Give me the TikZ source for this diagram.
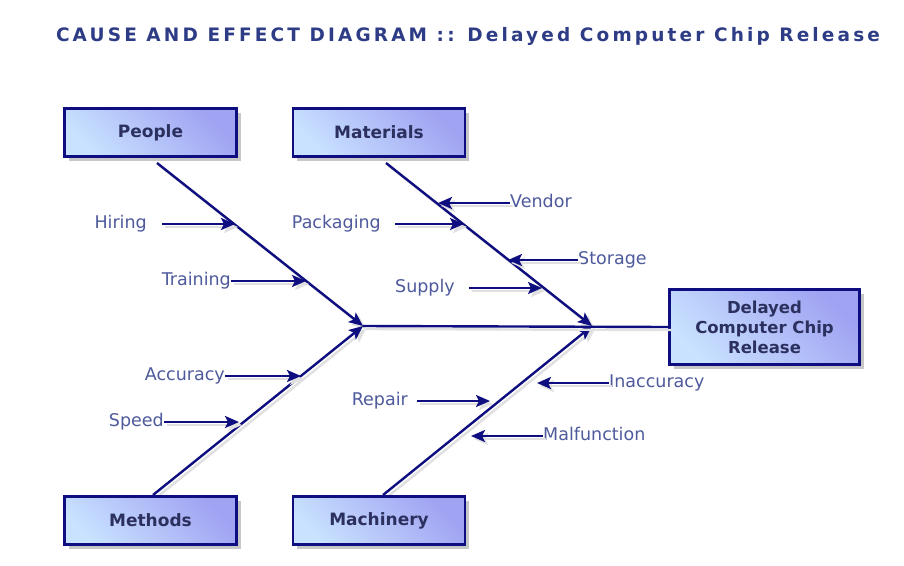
\documentclass[tikz,border=0pt]{standalone}
\usepackage{fontspec}
\setmainfont{DejaVu Sans}
\newfontfamily\titlefont[LetterSpace=17]{DejaVu Sans}
\usetikzlibrary{arrows.meta,shadows}
\definecolor{navy}{HTML}{0E0E80}
\definecolor{boxA}{HTML}{C8E2FF}
\definecolor{boxB}{HTML}{A0A2F2}
\definecolor{boxtext}{HTML}{2C305E}
\definecolor{lbltext}{HTML}{4E5A9C}
\definecolor{titlecol}{HTML}{2E3C86}
\begin{document}
\begin{tikzpicture}[x=1pt,y=-1pt,
  bone/.style={draw=navy, line width=2.4pt,
    preaction={draw=black!12, line width=2.4pt, transform canvas={shift={(3pt,-3pt)}}}},
  arr/.style={bone, -{Stealth[length=14pt,width=12pt,inset=3pt]}},
  box/.style={draw=navy, line width=2.5pt, left color=boxA, right color=boxB, shading angle=135,
    minimum width=172pt, minimum height=48pt, inner sep=0pt,
    font=\bfseries\fontsize{17}{20}\selectfont, text=boxtext,
    drop shadow={shadow xshift=4pt, shadow yshift=-4pt, fill=black!22, opacity=1}},
  lbl/.style={font=\fontsize{17.5}{20}\selectfont, text=lbltext, inner sep=0pt,
    text height=12.5pt, text depth=4pt},
]
\useasboundingbox (0,0) rectangle (904,565);
\fill[white] (0,0) rectangle (904,565);

% title
\node[font=\titlefont\bfseries\fontsize{18.5}{20}\selectfont, text=titlecol, inner sep=0pt, anchor=base] (title) at (468,41)
  {CAUSE AND EFFECT DIAGRAM :: Delayed Computer Chip Release};

% junctions and bone ends
\coordinate (j1) at (363,326);
\coordinate (j2) at (592,326);
\coordinate (pS) at (157,163);
\coordinate (mS) at (386,163);
\coordinate (meS) at (153,495);
\coordinate (maS) at (383,495);

% main bones
\draw[arr] (pS) -- (j1);
\draw[arr] (meS) -- (j1);
\draw[arr] (mS) -- (j2);
\draw[arr] (maS) -- (j2);

% boxes
\node[box] (people) at (150.5,132.5) {People};
\node[box] (materials) at (379,132.5) {Materials};
\node[box] (methods) at (150.5,520.5) {Methods};
\node[box] (machinery) at (379,520.5) {Machinery};
\node[box, minimum width=190pt, minimum height=75pt, align=center,
  font=\bfseries\fontsize{16.5}{20}\selectfont] (effect) at (764.5,327)
  {Delayed\\Computer Chip\\Release};

% spine
\draw[bone] (j1) -- (effect.west);

% cause labels
\node[lbl, anchor=east] (hiring) at (147,224) {Hiring};
\node[lbl, anchor=east] (training) at (231,281) {Training};
\node[lbl, anchor=east] (packaging) at (381,224) {Packaging};
\node[lbl, anchor=west] (vendor) at (510,203) {Vendor};
\node[lbl, anchor=west] (storage) at (578,260) {Storage};
\node[lbl, anchor=east] (supply) at (455,288) {Supply};
\node[lbl, anchor=east] (accuracy) at (225,376) {Accuracy};
\node[lbl, anchor=east] (speed) at (164,422) {Speed};
\node[lbl, anchor=east] (repair) at (408,401) {Repair};
\node[lbl, anchor=west] (inaccuracy) at (609,383) {Inaccuracy};
\node[lbl, anchor=west] (malfunction) at (543,436) {Malfunction};

% points on the bones
\coordinate (hiringT) at (235,224);
\coordinate (trainingT) at (306,281);
\coordinate (packagingT) at (464,224);
\coordinate (vendorT) at (438,203);
\coordinate (storageT) at (508,260);
\coordinate (supplyT) at (542,288);
\coordinate (accuracyT) at (301,376);
\coordinate (speedT) at (239,422);
\coordinate (repairT) at (490,401);
\coordinate (inaccuracyT) at (537,383);
\coordinate (malfunctionT) at (471,436);

% cause arrows
\draw[arr, shorten <=15pt] (hiring.east) -- (hiringT);
\draw[arr] (training.east) -- (trainingT);
\draw[arr, shorten <=14pt] (packaging.east) -- (packagingT);
\draw[arr] (vendor.west) -- (vendorT);
\draw[arr] (storage.west) -- (storageT);
\draw[arr, shorten <=14pt] (supply.east) -- (supplyT);
\draw[arr] (accuracy.east) -- (accuracyT);
\draw[arr] (speed.east) -- (speedT);
\draw[arr, shorten <=9pt] (repair.east) -- (repairT);
\draw[arr] (inaccuracy.west) -- (inaccuracyT);
\draw[arr] (malfunction.west) -- (malfunctionT);
\end{tikzpicture}
\end{document}
